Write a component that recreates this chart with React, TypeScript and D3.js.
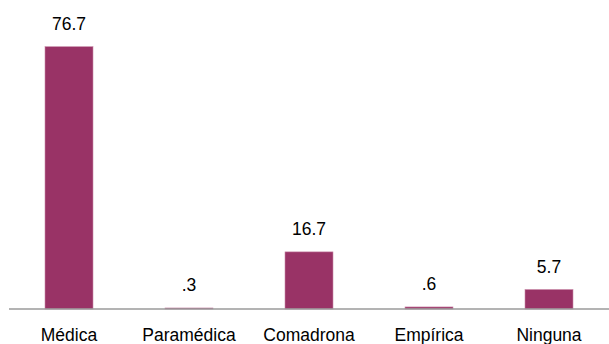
import React from 'react';
import * as d3 from 'd3';

const categories = ['Médica', 'Paramédica', 'Comadrona', 'Empírica', 'Ninguna'];
const values = [76.7, 0.3, 16.7, 0.6, 5.7];
const valueLabels = ['76.7', '.3', '16.7', '.6', '5.7'];

const W = 609;
const H = 344;

export default function App() {
  const axisY = 309;

  const x = d3.scaleBand<string>()
    .domain(categories)
    .range([9, 609])
    .paddingInner(0.6)
    .paddingOuter(0.3);

  const y = d3.scaleLinear()
    .domain([0, 80])
    .range([axisY, 35.4]);

  const font = '"Liberation Sans", Arial, sans-serif';

  return (
    <svg
      width={W}
      height={H}
      style={{ position: 'absolute', left: 0, top: 0, background: '#ffffff' }}
    >
      {categories.map((c, i) => {
        const bx = x(c) ?? 0;
        const top = y(values[i]);
        const cx = bx + x.bandwidth() / 2;
        return (
          <g key={c}>
            <rect
              x={bx}
              y={top}
              width={x.bandwidth()}
              height={axisY - top}
              fill="#993366"
              stroke="#c98aa8"
              strokeWidth={0.6}
            />
            <text
              x={cx}
              y={top - 17}
              textAnchor="middle"
              fontFamily={font}
              fontSize={17.5}
              fill="#000"
            >
              {valueLabels[i]}
            </text>
            <text
              x={cx}
              y={341}
              textAnchor="middle"
              fontFamily={font}
              fontSize={17.5}
              fill="#000"
            >
              {c}
            </text>
          </g>
        );
      })}
      <line x1={9} x2={609} y1={axisY} y2={axisY} stroke="#9a9a9a" strokeWidth={1.5} />
    </svg>
  );
}
